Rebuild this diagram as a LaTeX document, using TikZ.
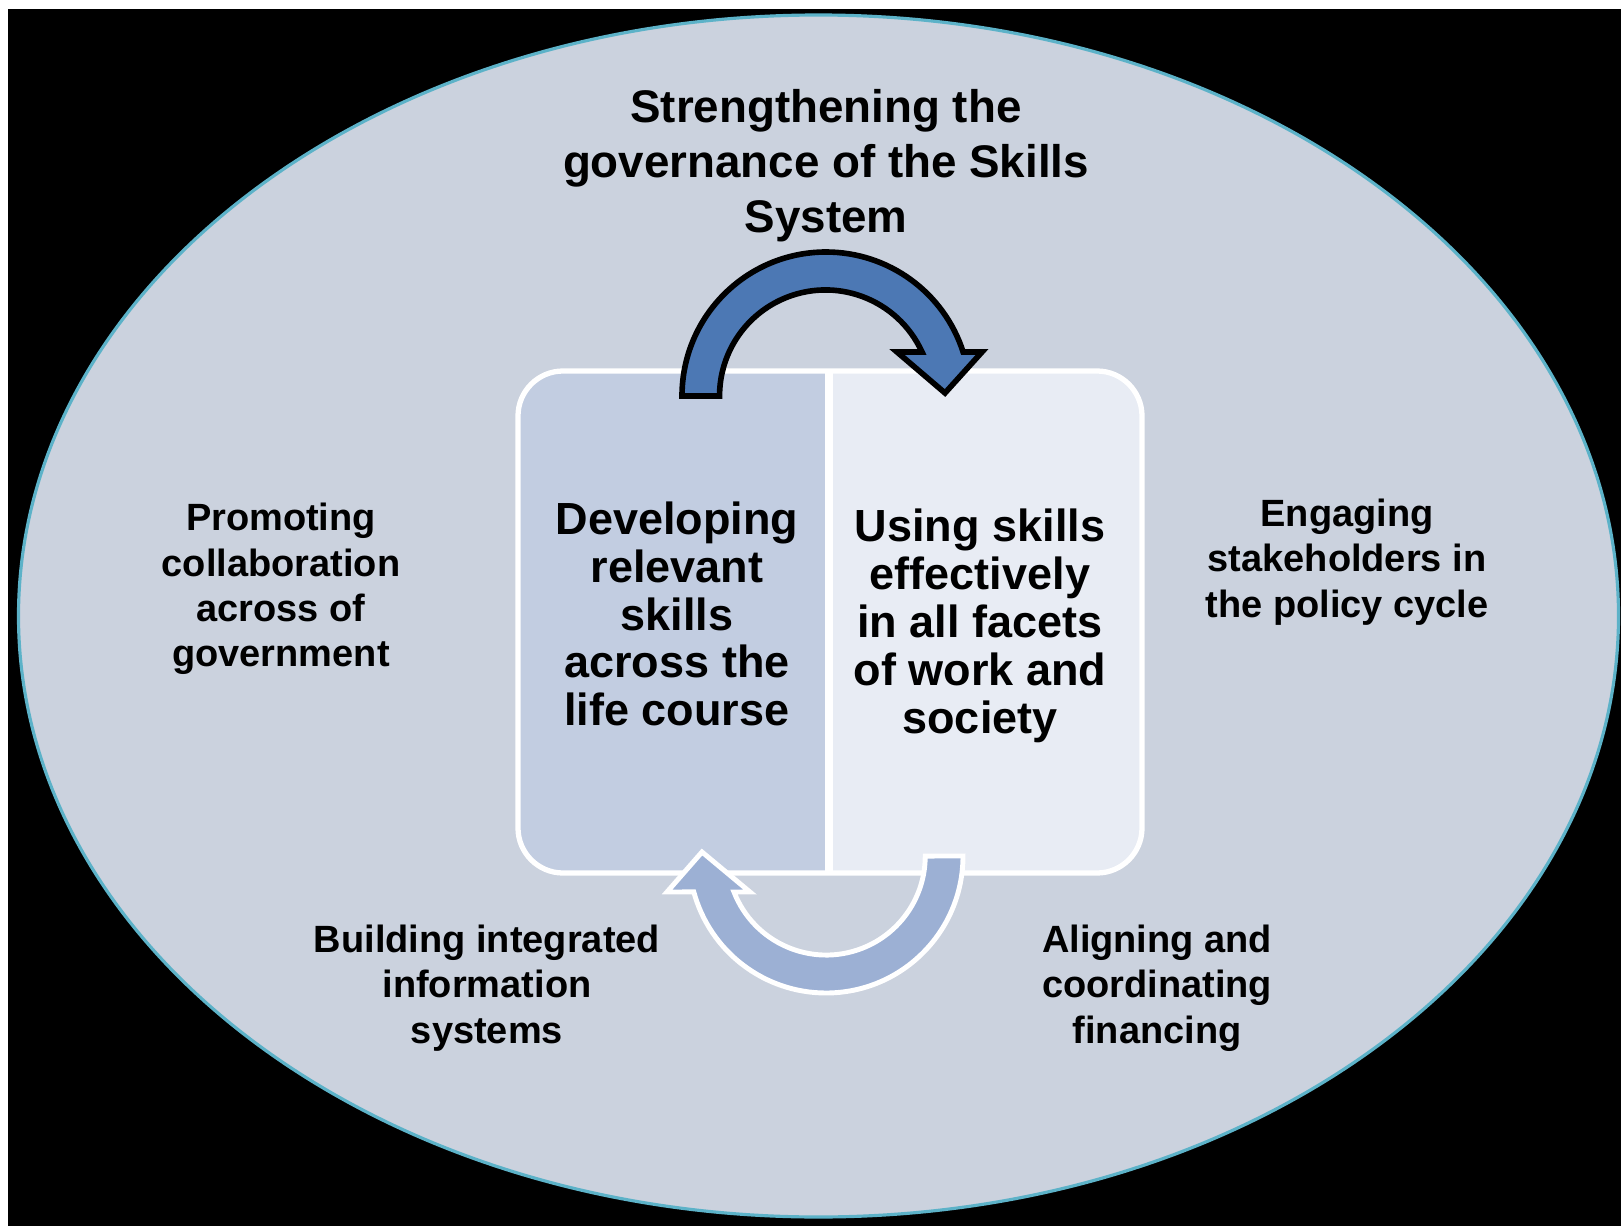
\documentclass[tikz,border=0pt]{standalone}
\usepackage{fontspec}
\setmainfont{Liberation Sans}
\definecolor{ovalfill}{RGB}{203,210,222}
\definecolor{ovalline}{RGB}{92,178,200}
\definecolor{leftfill}{RGB}{194,205,225}
\definecolor{rightfill}{RGB}{232,236,244}
\definecolor{darkarrow}{RGB}{76,120,180}
\definecolor{lightarrow}{RGB}{156,176,212}
\tikzset{
    titletext/.style={align=center, inner sep=0pt, font=\bfseries\fontsize{13}{15.6}\selectfont},
    sidetext/.style={align=center, inner sep=0pt, font=\bfseries\fontsize{10.8}{12.9}\selectfont},
    boxtext/.style={align=center, inner sep=0pt, font=\bfseries\fontsize{12.8}{13.6}\selectfont},
    darkloop/.style={fill=darkarrow, draw=black, line width=1.6pt, line join=miter},
    lightloop/.style={fill=lightarrow, draw=white, line width=1.4pt, line join=miter}
}

\begin{document}
\begin{tikzpicture}[x=0.01cm, y=0.01cm]
  \useasboundingbox (0,0) rectangle (1621,1226);
  \fill[white] (0,0) rectangle (1621,1226);
  \fill[black] (8,0) rectangle (1621,1217);
  \draw[fill=ovalfill, draw=ovalline, line width=0.9pt] (818.5,610) ellipse [x radius=800, y radius=601];
  \fill[leftfill] (829,353) [rounded corners=4.5mm] -- (518,353) -- (518,855) [sharp corners] -- (829,855) -- cycle;
  \fill[rightfill] (829,855) [rounded corners=4.5mm] -- (1142,855) -- (1142,353) [sharp corners] -- (829,353) -- cycle;
  \draw[white, line width=1.5pt, rounded corners=4.5mm] (518,353) rectangle (1142,855);
  \draw[white, line width=2.3pt] (829,353) -- (829,855);
  \draw[darkloop] (682,830) arc[start angle=180, end angle=17.8, radius=144] -- (982,874) -- (945,833) -- (897,874) -- (922,874) arc[start angle=24.5, end angle=180, radius=106] -- cycle;
  \draw[lightloop] (963,370) arc[start angle=0, end angle=-164.8, radius=137] -- (667,334) -- (702,374) -- (750,334) -- (734,334) arc[start angle=-158.7, end angle=0, radius=99] -- cycle;
  \node[titletext] (govern) at (826,1060) {Strengthening the\\governance of the Skills\\System};
  \node[sidetext] (collab) at (281,637) {Promoting\\collaboration\\across of\\government};
  \node[sidetext] (engage) at (1347,664) {Engaging\\stakeholders in\\the policy cycle};
  \node[sidetext] (infosys) at (487,238) {Building integrated\\information\\systems};
  \node[sidetext] (finance) at (1157,238) {Aligning and\\coordinating\\financing};
  \node[boxtext] (develop) at (677,612) {Developing\\relevant\\skills\\across the\\life course};
  \node[boxtext] (using) at (980,600) {Using skills\\effectively\\in all facets\\of work and\\society};
\end{tikzpicture}
\end{document}
